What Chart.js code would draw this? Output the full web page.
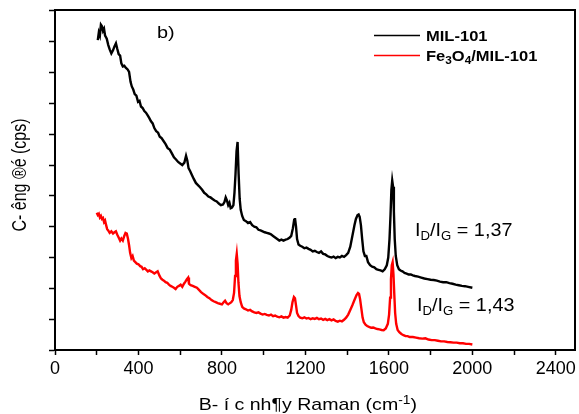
<!DOCTYPE html>
<html>
<head>
<meta charset="utf-8">
<script src="https://cdn.jsdelivr.net/npm/chart.js@4.4.0/dist/chart.umd.min.js"></script>
<style>
  html, body { margin: 0; padding: 0; background: #fff; }
  #wrap { width: 579px; height: 414px; }
</style>
</head>
<body>
<div id="wrap"><canvas id="ramanChart" width="579" height="414"></canvas></div>
<script>
var seriesNames = ['MIL-101', 'Fe3O4/MIL-101'];
var seriesColors = ['#000000', '#ff0000'];
var ratioLabels = ['1,37', '1,43'];
var xTickLabels = [0, 400, 800, 1200, 1600, 2000, 2400];
var xTitleParts = ['B- í c nh¶y Raman (cm', '-1', ')'];
var yTitle = 'C- êng ®é (cps)';

// MIL-101 spectrum
var mil101Shift = [205, 210, 215, 220, 225, 230, 235, 240, 248, 255, 262, 270, 278, 285, 292, 298,
  305, 312, 318, 325, 332, 340, 348, 355, 362, 368, 375, 382, 390, 398, 405, 412, 420, 428, 436,
  445, 452, 460, 468, 476, 485, 494, 502, 510, 520, 530, 540, 550, 560, 570, 580, 590, 600, 610,
  620, 628, 634, 640, 648, 656, 665, 675, 685, 695, 705, 715, 725, 735, 745, 755, 765, 775, 785,
  795, 805, 812, 818, 824, 830, 836, 842, 848, 855, 860, 865, 870, 875, 880, 885, 890, 897, 905,
  915, 925, 935, 945, 955, 965, 975, 985, 995, 1005, 1015, 1025, 1035, 1045, 1055, 1065, 1075,
  1085, 1095, 1105, 1115, 1125, 1132, 1140, 1146, 1150, 1155, 1160, 1167, 1175, 1185, 1195, 1205,
  1215, 1225, 1235, 1245, 1255, 1265, 1275, 1285, 1295, 1305, 1315, 1325, 1335, 1345, 1355, 1365,
  1375, 1385, 1395, 1405, 1415, 1425, 1435, 1442, 1450, 1455, 1460, 1466, 1472, 1478, 1485, 1492,
  1500, 1510, 1520, 1530, 1540, 1550, 1560, 1570, 1580, 1590, 1597, 1603, 1608, 1612, 1616, 1620,
  1624, 1628, 1633, 1640, 1648, 1656, 1665, 1675, 1685, 1695, 1705, 1715, 1725, 1740, 1755, 1770,
  1785, 1800, 1815, 1830, 1845, 1860, 1875, 1890, 1905, 1920, 1935, 1950, 1965, 1980, 2000];
var mil101Counts = [9.05, 9.30, 9.20, 9.55, 9.50, 9.35, 9.42, 9.20, 9.10, 8.90, 8.75, 8.62, 8.72,
  8.85, 8.95, 8.78, 8.60, 8.55, 8.30, 8.20, 8.22, 8.15, 8.10, 8.02, 7.70, 7.55, 7.45, 7.30, 7.25,
  7.05, 7.08, 6.90, 6.85, 6.75, 6.70, 6.60, 6.52, 6.42, 6.35, 6.20, 6.10, 6.05, 5.92, 5.88, 5.78,
  5.68, 5.55, 5.50, 5.38, 5.25, 5.18, 5.10, 5.05, 5.00, 5.08, 5.30, 5.15, 4.90, 4.80, 4.68, 4.55,
  4.42, 4.35, 4.28, 4.20, 4.10, 4.05, 3.98, 3.95, 3.90, 3.85, 3.82, 3.75, 3.70, 3.72, 3.80, 3.95,
  3.85, 3.70, 3.78, 3.60, 3.62, 3.70, 4.10, 4.70, 5.45, 5.75, 4.70, 3.90, 3.55, 3.35, 3.22, 3.18,
  3.12, 3.15, 3.05, 3.00, 2.98, 2.90, 2.88, 2.85, 2.82, 2.80, 2.78, 2.75, 2.70, 2.65, 2.60, 2.55,
  2.58, 2.55, 2.58, 2.60, 2.65, 2.70, 2.95, 3.22, 3.28, 3.00, 2.60, 2.42, 2.38, 2.35, 2.30, 2.32,
  2.28, 2.25, 2.20, 2.22, 2.18, 2.15, 2.20, 2.12, 2.10, 2.05, 2.02, 2.00, 2.03, 1.98, 2.02, 2.00,
  2.05, 2.02, 2.08, 2.15, 2.35, 2.70, 3.05, 3.25, 3.38, 3.40, 3.32, 3.05, 2.60, 2.20, 2.05, 2.05,
  1.85, 1.75, 1.70, 1.68, 1.62, 1.60, 1.58, 1.55, 1.62, 1.75, 2.00, 2.60, 3.40, 4.20, 4.50, 4.30,
  3.50, 2.60, 2.05, 1.75, 1.62, 1.58, 1.55, 1.50, 1.48, 1.45, 1.45, 1.42, 1.40, 1.38, 1.35, 1.32,
  1.30, 1.28, 1.27, 1.25, 1.22, 1.20, 1.20, 1.17, 1.15, 1.12, 1.10, 1.08, 1.07, 1.05, 1.02];

// Fe3O4/MIL-101 spectrum
var feShift = [200, 205, 210, 215, 220, 225, 230, 235, 240, 245, 250, 255, 262, 270, 278, 285, 292,
  298, 305, 312, 318, 325, 332, 338, 344, 350, 355, 360, 366, 372, 378, 385, 392, 400, 408, 415,
  422, 430, 438, 445, 452, 460, 468, 476, 485, 492, 500, 508, 515, 522, 530, 538, 546, 554, 562,
  570, 578, 586, 594, 602, 610, 618, 625, 632, 638, 642, 650, 660, 670, 680, 690, 700, 710, 720,
  730, 740, 750, 760, 770, 780, 790, 800, 808, 815, 822, 830, 838, 845, 852, 858, 863, 867, 871,
  875, 879, 884, 890, 897, 905, 915, 925, 935, 945, 955, 965, 975, 985, 995, 1005, 1015, 1025,
  1035, 1045, 1055, 1065, 1075, 1085, 1095, 1105, 1115, 1125, 1132, 1138, 1145, 1150, 1155, 1160,
  1167, 1175, 1185, 1195, 1205, 1215, 1225, 1235, 1245, 1255, 1265, 1275, 1285, 1295, 1305, 1315,
  1325, 1335, 1345, 1355, 1365, 1375, 1385, 1395, 1405, 1415, 1425, 1435, 1445, 1452, 1457, 1462,
  1468, 1474, 1480, 1488, 1496, 1505, 1515, 1525, 1535, 1545, 1555, 1565, 1575, 1585, 1595, 1601,
  1606, 1610, 1614, 1618, 1622, 1626, 1630, 1635, 1642, 1650, 1660, 1670, 1680, 1690, 1700, 1715,
  1730, 1745, 1760, 1775, 1790, 1805, 1820, 1835, 1850, 1865, 1880, 1895, 1910, 1925, 1940, 1955,
  1970, 1985, 2000];
var feCounts = [3.45, 3.38, 3.42, 3.30, 3.35, 3.25, 3.28, 3.15, 3.20, 3.05, 2.92, 2.88, 2.80, 2.85,
  2.78, 2.82, 2.85, 2.75, 2.65, 2.55, 2.62, 2.55, 2.70, 2.80, 2.78, 2.60, 2.40, 2.15, 1.98, 2.05,
  1.90, 1.85, 1.80, 1.78, 1.72, 1.70, 1.62, 1.65, 1.60, 1.55, 1.58, 1.55, 1.52, 1.48, 1.52, 1.55,
  1.42, 1.32, 1.28, 1.25, 1.20, 1.18, 1.12, 1.08, 1.05, 1.02, 0.98, 1.05, 1.08, 1.12, 1.05, 1.15,
  1.22, 1.30, 1.35, 1.15, 1.10, 1.08, 1.05, 1.02, 0.95, 0.88, 0.82, 0.78, 0.72, 0.68, 0.62, 0.58,
  0.55, 0.52, 0.50, 0.48, 0.55, 0.60, 0.52, 0.48, 0.52, 0.55, 0.62, 0.85, 1.40, 1.90, 2.12, 1.80,
  1.20, 0.75, 0.55, 0.40, 0.35, 0.32, 0.28, 0.30, 0.25, 0.22, 0.20, 0.22, 0.18, 0.15, 0.17, 0.14,
  0.12, 0.15, 0.10, 0.12, 0.08, 0.06, 0.09, 0.05, 0.07, 0.05, 0.12, 0.30, 0.55, 0.72, 0.68, 0.45,
  0.20, 0.10, 0.05, 0.03, 0.06, 0.02, 0.04, 0.00, 0.03, 0.01, 0.04, 0.00, 0.02, -0.02, 0.01, -0.03,
  0.00, -0.04, -0.01, -0.06, -0.08, -0.05, -0.07, -0.02, 0.05, 0.15, 0.30, 0.45, 0.62, 0.78, 0.85,
  0.82, 0.65, 0.35, 0.05, -0.10, -0.18, -0.22, -0.25, -0.28, -0.27, -0.30, -0.32, -0.33, -0.35,
  -0.36, -0.30, -0.15, 0.15, 0.70, 1.30, 1.75, 1.85, 1.45, 0.80, 0.20, -0.15, -0.35, -0.42, -0.48,
  -0.52, -0.55, -0.55, -0.58, -0.58, -0.60, -0.62, -0.63, -0.62, -0.66, -0.68, -0.68, -0.70, -0.72,
  -0.72, -0.74, -0.75, -0.76, -0.76, -0.78, -0.78, -0.80, -0.80, -0.82];

var FONT = "'Liberation Sans', Arial, sans-serif";
Chart.defaults.font.family = FONT;
Chart.defaults.color = '#000';

function toPoints(xs, ys) {
  return xs.map(function(x, i) { return { x: x, y: ys[i] }; });
}

// tick marks every `step` between from and to (labels are picked separately)
function stepTicks(from, to, step) {
  var out = [];
  for (var v = from; v <= to + 1e-9; v += step) out.push({ value: v });
  return out;
}

// runs are [text, shift] with shift 0 = normal, 1 = subscript, -1 = superscript
function runFont(size, shift, weight) {
  var fs = shift ? Math.round(size * 0.68) : size;
  return weight + ' ' + fs + 'px ' + FONT;
}

function runsWidth(ctx, runs, size, weight) {
  var w = 0;
  runs.forEach(function(run) {
    ctx.font = runFont(size, run[1], weight);
    w += ctx.measureText(run[0]).width;
  });
  return w;
}

// text is stretched a little horizontally (sx) to keep the wide lettering
function drawRuns(ctx, x, y, runs, size, weight, sx, center) {
  ctx.save();
  ctx.translate(x, y);
  ctx.scale(sx, 1);
  ctx.textBaseline = 'alphabetic';
  ctx.textAlign = 'left';
  var cx = center ? -runsWidth(ctx, runs, size, weight) / 2 : 0;
  runs.forEach(function(run) {
    ctx.font = runFont(size, run[1], weight);
    var dy = run[1] === 1 ? size * 0.22 : (run[1] === -1 ? -size * 0.38 : 0);
    ctx.fillText(run[0], cx, dy);
    cx += ctx.measureText(run[0]).width;
  });
  ctx.restore();
}

// a digit right after a letter is a subscript (Fe3O4)
function chemRuns(label) {
  var runs = [];
  for (var i = 0; i < label.length; i++) {
    var c = label[i];
    var sub = (/[0-9]/.test(c) && i > 0 && /[A-Za-z]/.test(label[i - 1])) ? 1 : 0;
    if (runs.length && runs[runs.length - 1][1] === sub) {
      runs[runs.length - 1][0] += c;
    } else {
      runs.push([c, sub]);
    }
  }
  return runs;
}

var textPlugin = {
  id: 'ramanText',
  afterDraw: function(chart) {
    var ctx = chart.ctx;
    var area = chart.chartArea;
    ctx.save();
    ctx.fillStyle = '#000';

    // panel letter
    drawRuns(ctx, 157, 38, [['b)', 0]], 17, 'normal', 1.17, false);

    // legend
    chart.data.datasets.forEach(function(ds, i) {
      var ly = 35.5 + i * 20;
      ctx.strokeStyle = ds.borderColor;
      ctx.lineWidth = 1.5;
      ctx.beginPath();
      ctx.moveTo(374, ly);
      ctx.lineTo(420, ly);
      ctx.stroke();
      ctx.fillStyle = '#000';
      drawRuns(ctx, 426, ly + 5, chemRuns(ds.label), 14, 'bold', 1.18, false);
    });

    // I_D / I_G ratios
    var pos = [[415, 236], [417, 311]];
    ratioLabels.forEach(function(r, i) {
      drawRuns(ctx, pos[i][0], pos[i][1],
        [['I', 0], ['D', 1], ['/I', 0], ['G', 1], [' = ' + r, 0]], 18, 'normal', 1.1, false);
    });

    // axis titles
    drawRuns(ctx, (area.left + area.right) / 2 - 7, 410,
      [[xTitleParts[0], 0], [xTitleParts[1], -1], [xTitleParts[2], 0]], 17, 'normal', 1.15, true);

    ctx.save();
    ctx.translate(26, 175);
    ctx.rotate(-Math.PI / 2);
    ctx.scale(1, 1.25);
    ctx.font = '16px ' + FONT;
    ctx.textAlign = 'center';
    ctx.textBaseline = 'alphabetic';
    ctx.fillText(yTitle, 0, 0);
    ctx.restore();

    ctx.restore();
  }
};

var ctx = document.getElementById('ramanChart').getContext('2d');
var ramanChart = new Chart(ctx, {
  type: 'line',
  data: {
    datasets: [
      {
        label: seriesNames[0],
        data: toPoints(mil101Shift, mil101Counts),
        borderColor: seriesColors[0],
        borderWidth: 2.4,
        pointRadius: 0,
        tension: 0,
        fill: false
      },
      {
        label: seriesNames[1],
        data: toPoints(feShift, feCounts),
        borderColor: seriesColors[1],
        borderWidth: 2.4,
        pointRadius: 0,
        tension: 0,
        fill: false
      }
    ]
  },
  options: {
    responsive: false,
    animation: false,
    devicePixelRatio: 1,
    layout: { padding: { top: 10, right: 3, left: 0, bottom: 0 } },
    plugins: { legend: { display: false }, tooltip: { enabled: false } },
    scales: {
      x: {
        type: 'linear',
        position: 'bottom',
        min: 0,
        max: 2490,
        afterBuildTicks: function(s) { s.ticks = stepTicks(0, 2400, 200); },
        afterFit: function(s) { s.height = 64; },
        ticks: {
          autoSkip: false,
          maxRotation: 0,
          padding: 3,
          font: { size: 18 },
          color: '#000',
          callback: function(v) { return xTickLabels.indexOf(v) >= 0 ? String(v) : ''; }
        },
        grid: { drawOnChartArea: false, drawTicks: true, tickLength: 5, tickColor: '#000', tickWidth: 1.5 },
        border: { color: '#000', width: 2 }
      },
      y: {
        type: 'linear',
        position: 'left',
        min: -1,
        max: 10.03,
        afterBuildTicks: function(s) { s.ticks = stepTicks(-1, 10, 1); },
        afterFit: function(s) { s.width = 55; },
        ticks: { display: false },
        grid: { drawOnChartArea: false, drawTicks: true, tickLength: 6, tickColor: '#000', tickWidth: 1.5 },
        border: { color: '#000', width: 2 }
      },
      x2: {
        type: 'linear',
        position: 'top',
        min: 0,
        max: 2490,
        afterFit: function(s) { s.height = 0; },
        ticks: { display: false },
        grid: { drawOnChartArea: false, drawTicks: false },
        border: { color: '#000', width: 2 }
      },
      y2: {
        type: 'linear',
        position: 'right',
        min: -1,
        max: 10.03,
        afterFit: function(s) { s.width = 0; },
        ticks: { display: false },
        grid: { drawOnChartArea: false, drawTicks: false },
        border: { color: '#000', width: 2 }
      }
    }
  },
  plugins: [textPlugin]
});
</script>
</body>
</html>
